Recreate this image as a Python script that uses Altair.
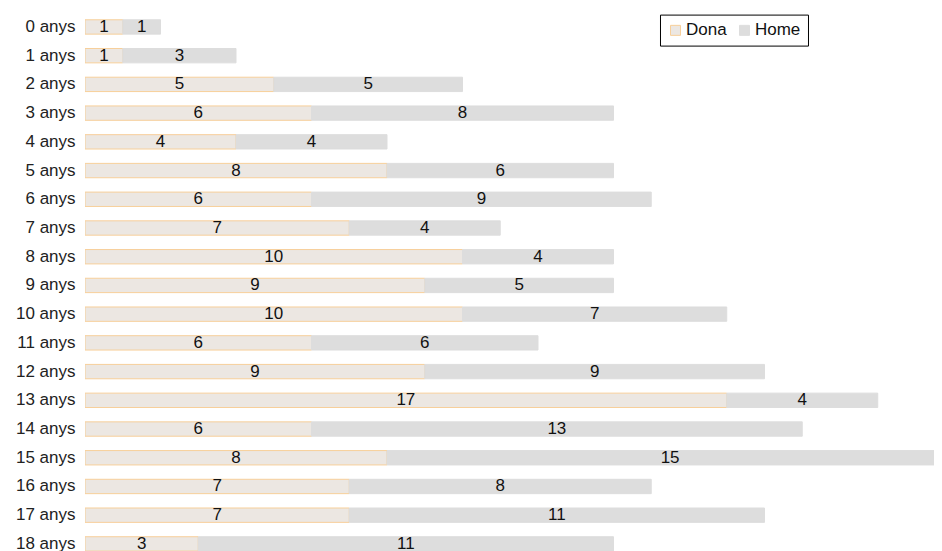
import altair as alt
import pandas as pd

ages = [f"{i} anys" for i in range(19)]
dona = [1, 1, 5, 6, 4, 8, 6, 7, 10, 9, 10, 6, 9, 17, 6, 8, 7, 7, 3]
home = [1, 3, 5, 8, 4, 6, 9, 4, 4, 5, 7, 6, 9, 4, 13, 15, 8, 11, 11]
series = ["Dona", "Home"]

rows = []
for a, d, h in zip(ages, dona, home):
    rows.append({"age": a, "sex": "Dona", "value": d, "ord": 0})
    rows.append({"age": a, "sex": "Home", "value": h, "ord": 1})
df = pd.DataFrame(rows)

FONT = "Liberation Sans"
step = 28.72
n = len(ages)
plot_w = 849
x_max = plot_w / 37.75

y_enc = alt.Y("age:N", sort=ages, title=None,
              scale=alt.Scale(paddingInner=0.5, paddingOuter=0.25),
              axis=alt.Axis(domain=False, ticks=False, labelPadding=10,
                            labelFont=FONT, labelFontSize=17, labelColor="#222"))
x_scale = alt.Scale(domain=[0, x_max], nice=False, zero=True)

base = alt.Chart(df).transform_stack(
    stack="value", groupby=["age"], as_=["x0", "x1"], sort=[alt.SortField("ord")]
).transform_calculate(mid="(datum.x0 + datum.x1) / 2")

bars = base.mark_bar(clip=True, strokeWidth=1).encode(
    y=y_enc,
    x=alt.X("x0:Q", scale=x_scale, axis=None),
    x2="x1:Q",
    color=alt.Color("sex:N", scale=alt.Scale(domain=series, range=["#ece7e2", "#dddddd"]),
                    legend=alt.Legend(title=None, orient="none", legendX=575, legendY=2,
                                      direction="horizontal", strokeColor="#000",
                                      fillColor="#fff", padding=7, symbolType="square",
                                      symbolSize=100, labelFont=FONT, labelFontSize=17,
                                      labelColor="#111", columnPadding=9, labelOffset=2,
                                      symbolStrokeWidth=1)),
    stroke=alt.Stroke("sex:N", scale=alt.Scale(domain=series, range=["#f7cf9a", "#dddddd"]),
                      legend=None),
)

labels = base.mark_text(font=FONT, fontSize=17, color="#111", clip=True).encode(
    y=alt.Y("age:N", sort=ages),
    x=alt.X("mid:Q", scale=x_scale),
    text="value:Q",
)

chart = (bars + labels).properties(
    width=plot_w, height=step * n,
    autosize=alt.AutoSizeParams(type="none"),
    padding={"left": 77, "top": 4.6, "right": 0, "bottom": 0},
).configure_view(stroke=None)

chart.save("out.html", embed_options={"renderer": "svg", "actions": False})
